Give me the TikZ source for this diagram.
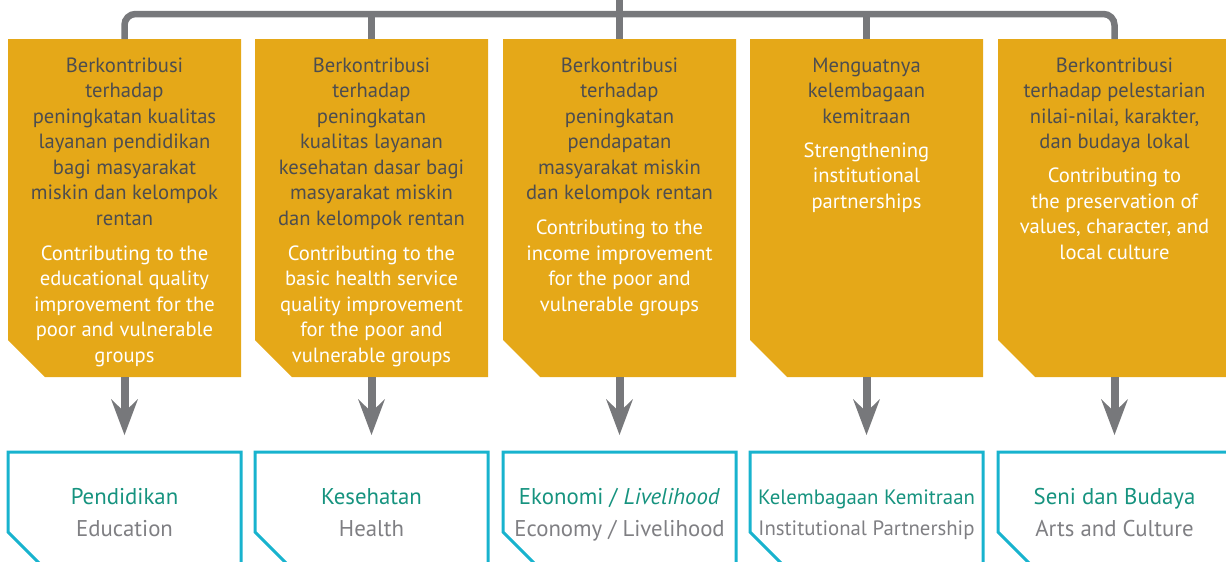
\documentclass[tikz,border=0pt]{standalone}
\usepackage{fontspec}
\setmainfont{PT Sans}
\usetikzlibrary{arrows.meta}
\definecolor{gold}{HTML}{E5A818}
\definecolor{darktext}{HTML}{4D4D4F}
\definecolor{linegray}{HTML}{77787B}
\definecolor{tealtxt}{HTML}{16937F}
\definecolor{cyanline}{HTML}{18B3CE}
\definecolor{subgray}{HTML}{7F7F83}
\newcommand\entext[1]{\textcolor{white}{#1}}
\newcommand\firststrut{\rule{0pt}{15pt}}
\begin{document}
\begin{tikzpicture}[x=1pt,y=-1pt,
  goalbox/.style={minimum width=233pt,minimum height=338pt,inner sep=0pt,outer sep=0pt},
  areabox/.style={minimum width=233pt,minimum height=117pt,inner sep=0pt,outer sep=0pt},
  goaltext/.style={anchor=north,align=center,inner sep=0pt,text=darktext,font=\fontsize{20.6}{25.5}\selectfont},
  areatext/.style={anchor=north,align=center,inner sep=0pt,font=\fontsize{22.8}{32}\selectfont},
  conn/.style={draw=linegray,line width=6.5pt},
  arr/.style={draw=linegray,line width=8pt,shorten >=17pt,
    -{Stealth[length=36pt,width=27pt,inset=13pt,line width=0pt]}},
  goalfill/.style={fill=gold},
  arealine/.style={draw=cyanline,line width=3pt}
]
\useasboundingbox (0,0) rectangle (1226,562);

% goal boxes
\foreach \i/\x in {1/124.5,2/371.5,3/619.5,4/866.5,5/1114.5}{
  \node[goalbox] (b\i) at (\x,208) {};
  \fill[goalfill] (b\i.north west) -- (b\i.north east) -- (b\i.south east)
     -- ([xshift=37pt]b\i.south west) -- ([yshift=37pt]b\i.south west) -- cycle;
  \node[areabox] (c\i) at (\x,510.5) {};
  \draw[arealine] (c\i.south east) -- (c\i.north east) -- (c\i.north west)
     -- ([yshift=37pt]c\i.south west) -- ([xshift=37pt]c\i.south west);
  \draw[arr] (b\i.south) -- (c\i.north);
}

% top connector
\coordinate (topc) at (619.5,0);
\draw[conn,rounded corners=11pt] (b1.north) -- ++(0,-25) -| (b5.north);
\draw[conn] (b2.north) -- ++(0,-25);
\draw[conn] (b4.north) -- ++(0,-25);
\draw[conn] (topc) -- (b3.north);

% goal texts
\node[goaltext] (t1) at (124.5,57) {\firststrut Berkontribusi\\terhadap\\peningkatan kualitas\\layanan pendidikan\\bagi masyarakat\\miskin dan kelompok\\rentan\\[9.5pt]
\entext{Contributing to the}\\\entext{educational quality}\\\entext{improvement for the}\\\entext{poor and vulnerable}\\\entext{groups}};
\node[goaltext] (t2) at (371.5,57) {\firststrut Berkontribusi\\terhadap\\peningkatan\\kualitas layanan\\kesehatan dasar bagi\\masyarakat miskin\\dan kelompok rentan\\[9.5pt]
\entext{Contributing to the}\\\entext{basic health service}\\\entext{quality improvement}\\\entext{for the poor and}\\\entext{vulnerable groups}};
\node[goaltext] (t3) at (619.5,57) {\firststrut Berkontribusi\\terhadap\\peningkatan\\pendapatan\\masyarakat miskin\\dan kelompok rentan\\[9.5pt]
\entext{Contributing to the}\\\entext{income improvement}\\\entext{for the poor and}\\\entext{vulnerable groups}};
\node[goaltext] (t4) at (866.5,57) {\firststrut Menguatnya\\kelembagaan\\kemitraan\\[8.5pt]
\entext{Strengthening}\\\entext{institutional}\\\entext{partnerships}};
\node[goaltext] (t5) at (1114.5,57) {\firststrut Berkontribusi\\terhadap pelestarian\\nilai-nilai, karakter,\\dan budaya lokal\\[8.5pt]
\entext{Contributing to}\\\entext{the preservation of}\\\entext{values, character, and}\\\entext{local culture}};

% area texts
\node[areatext] (k1) at (124.5,488) {\firststrut\textcolor{tealtxt}{Pendidikan}\\\textcolor{subgray}{Education}};
\node[areatext] (k2) at (371.5,488) {\firststrut\textcolor{tealtxt}{Kesehatan}\\\textcolor{subgray}{Health}};
\node[areatext] (k3) at (619.5,488) {\firststrut\textcolor{tealtxt}{Ekonomi / \textit{Livelihood}}\\\textcolor{subgray}{Economy / Livelihood}};
\node[areatext,font=\fontsize{20.8}{31}\selectfont] (k4) at (866.5,489) {\firststrut\textcolor{tealtxt}{Kelembagaan Kemitraan}\\\textcolor{subgray}{Institutional Partnership}};
\node[areatext] (k5) at (1114.5,488) {\firststrut\textcolor{tealtxt}{Seni dan Budaya}\\\textcolor{subgray}{Arts and Culture}};
\end{tikzpicture}
\end{document}
